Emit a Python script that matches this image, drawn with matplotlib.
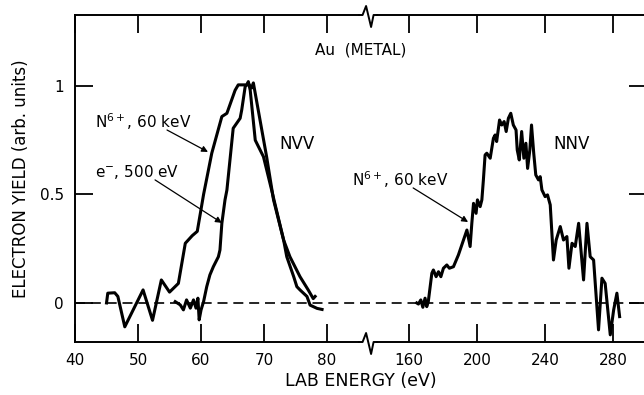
import numpy as np
import matplotlib
matplotlib.use('Agg')
import matplotlib.pyplot as plt
import matplotlib.transforms as mtransforms
from matplotlib.ticker import NullLocator

# N VV peak, N6+ 60 keV impact
nvv_ion_x = [45.0, 45.2, 46.3, 46.8, 47.9, 50.8, 52.3, 53.7, 55.0, 56.4, 57.5, 58.6, 59.4,
             60.4, 61.7, 63.3, 64.1, 65.4, 65.9, 67.25, 67.5, 67.8, 68.6, 69.9, 71.2, 73.1,
             73.6, 74.7, 75.2, 75.7, 76.8, 77.3, 78.4, 79.2]
nvv_ion_y = [0.0, 0.045, 0.047, 0.03, -0.11, 0.06, -0.08, 0.106, 0.05, 0.09, 0.275, 0.31, 0.33,
             0.5, 0.69, 0.859, 0.874, 0.98, 1.005, 1.005, 1.02, 0.98, 0.75, 0.674, 0.52, 0.29,
             0.213, 0.121, 0.075, 0.06, 0.03, -0.01, -0.025, -0.03]

# N VV peak, 500 eV electron impact
nvv_el_x = [55.9, 56.7, 57.2, 57.7, 58.3, 58.8, 59.2, 59.5, 59.7, 60.0, 60.4, 60.9, 61.4, 61.95,
            62.75, 63.0, 63.3, 63.8, 64.1, 65.1, 66.2, 66.45, 67.0, 67.5, 68.0, 68.3, 70.4,
            71.5, 73.1, 74.1, 75.7, 77.0, 77.8, 78.1]
nvv_el_y = [0.006, -0.009, -0.032, 0.014, -0.024, 0.014, -0.024, 0.022, -0.078, -0.032, 0.006,
            0.075, 0.129, 0.167, 0.213, 0.244, 0.367, 0.475, 0.52, 0.805, 0.851, 0.889, 0.997,
            1.012, 0.99, 1.014, 0.674, 0.475, 0.29, 0.213, 0.121, 0.06, 0.02, 0.03]

# N NV peak, N6+ 60 keV impact
nnv_x = [164.6, 165.6, 167.0, 168.2, 169.5, 170.5, 171.4, 173.5, 174.4, 176.0, 177.4, 178.8,
         180.3, 182.3, 183.8, 186.2, 189.1, 192.1, 194.1, 196.0, 197.0, 198.0, 199.5, 200.3,
         201.9, 202.9, 203.8, 204.8, 205.8, 207.8, 209.7, 210.7, 211.6, 213.3, 214.6, 216.0,
         217.2, 218.5, 219.9, 221.4, 223.0, 223.7, 224.9, 226.3, 227.6, 228.8, 229.8, 231.1,
         232.1, 233.4, 234.6, 236.2, 237.2, 238.2, 240.1, 241.5, 243.1, 245.0, 246.6, 249.0,
         250.9, 252.9, 254.1, 255.9, 257.8, 259.8, 262.7, 264.7, 266.6, 268.6, 271.5, 273.5,
         275.4, 278.4, 280.4, 282.3, 283.9]
nnv_y = [0.0, -0.005, 0.014, -0.02, 0.022, -0.017, 0.006, 0.137, 0.152, 0.121, 0.144, 0.121,
         0.16, 0.175, 0.16, 0.167, 0.221, 0.29, 0.336, 0.26, 0.367, 0.459, 0.413, 0.475,
         0.444, 0.475, 0.567, 0.682, 0.69, 0.667, 0.759, 0.774, 0.744, 0.843, 0.82, 0.836,
         0.79, 0.851, 0.874, 0.82, 0.797, 0.705, 0.659, 0.79, 0.667, 0.736, 0.62, 0.705,
         0.82, 0.69, 0.59, 0.567, 0.582, 0.521, 0.49, 0.498, 0.452, 0.198, 0.29, 0.352,
         0.29, 0.306, 0.16, 0.275, 0.26, 0.367, 0.106, 0.367, 0.213, 0.198, -0.124, 0.114,
         0.09, -0.147, -0.032, 0.045, -0.063]

x_ticks = [40, 50, 60, 70, 80, 160, 200, 240, 280]
y_ticks = [0, 0.5, 1]
y_ticklabels = ['0', '0.5', '1']

# broken energy axis: 40-86.5 eV at full scale, 136-300 eV compressed
brk_lo, brk_hi = 86.5, 136.0
ratio = 1.7 / 6.3

def fwd(x):
    x = np.asarray(x, dtype=float)
    return np.where(x <= brk_lo, x, brk_lo + np.clip(x - brk_hi, 0, None) * ratio)

def inv(u):
    u = np.asarray(u, dtype=float)
    return np.where(u <= brk_lo, u, brk_hi + (u - brk_lo) / ratio)

plt.rcParams['font.family'] = ['DejaVu Sans']
plt.rcParams['mathtext.fontset'] = 'dejavusans'

fig = plt.figure(figsize=(6.44, 3.95), dpi=100)
ax = fig.add_axes([75 / 644, 1 - 342 / 395, 572 / 644, 327 / 395])
ax.set_xscale('function', functions=(fwd, inv))
ax.set_xlim(40, 300)
ax.set_ylim(-0.18, 1.327)

lw = 2.2
for xs, ys in [(nvv_ion_x, nvv_ion_y), (nvv_el_x, nvv_el_y), (nnv_x, nnv_y)]:
    ax.plot(xs, ys, color='black', lw=lw, solid_joinstyle='round')
ax.axhline(0, color='black', lw=1.2, linestyle=(0, (6, 3.5)))

ax.set_xticks(x_ticks)
ax.set_xticklabels([str(t) for t in x_ticks])
ax.xaxis.set_minor_locator(NullLocator())
ax.set_yticks(y_ticks)
ax.set_yticklabels(y_ticklabels)
ax.tick_params(direction='in', length=13, width=1.3, top=True, right=True,
               labelsize=11, pad=8)
for s in ax.spines.values():
    s.set_linewidth(1.4)

ax.set_xlabel('LAB ENERGY (eV)', fontsize=12.5, labelpad=3)
ax.set_ylabel('ELECTRON YIELD (arb. units)', fontsize=12, labelpad=7)

# zig-zag break marks on the top and bottom spines (offsets in pixels)
zig_dx = np.array([-9, -5.5, -2, 3, 5.5, 9])
zig_dy = np.array([0, 0, 9, -12, 0, 0])
tr = mtransforms.blended_transform_factory(ax.transData, ax.transAxes)
for yax in (0, 1):
    cx, cy = tr.transform([(brk_lo, yax)])[0]
    ax.add_line(plt.Line2D([cx - 6, cx + 6], [cy, cy], color='white', lw=3, clip_on=False,
                           zorder=3.5, transform=mtransforms.IdentityTransform()))
    ax.add_line(plt.Line2D(cx + zig_dx, cy + zig_dy, color='black', lw=1.4, clip_on=False,
                           zorder=4, transform=mtransforms.IdentityTransform()))

ax.text(85.4, 1.166, 'Au  (METAL)', ha='center', va='center', fontsize=11)
ax.text(43.2, 0.834, 'N$^{6+}$, 60 keV', ha='left', va='center', fontsize=11)
ax.text(43.2, 0.604, 'e$^{-}$, 500 eV', ha='left', va='center', fontsize=11)
ax.text(72.5, 0.733, 'NVV', ha='left', va='center', fontsize=12)
ax.text(84.0, 0.567, 'N$^{6+}$, 60 keV', ha='left', va='center', fontsize=11)
ax.text(244.8, 0.733, 'NNV', ha='left', va='center', fontsize=12)

arrow = dict(arrowstyle='-|>', color='black', lw=0.9, mutation_scale=9, shrinkA=0, shrinkB=0)
ax.annotate('', xy=(61.1, 0.696), xytext=(54.6, 0.797), arrowprops=arrow)
ax.annotate('', xy=(63.3, 0.369), xytext=(52.7, 0.567), arrowprops=arrow)
ax.annotate('', xy=(194.8, 0.373), xytext=(162.5, 0.53), arrowprops=arrow)

fig.savefig('out.png', dpi=100)
